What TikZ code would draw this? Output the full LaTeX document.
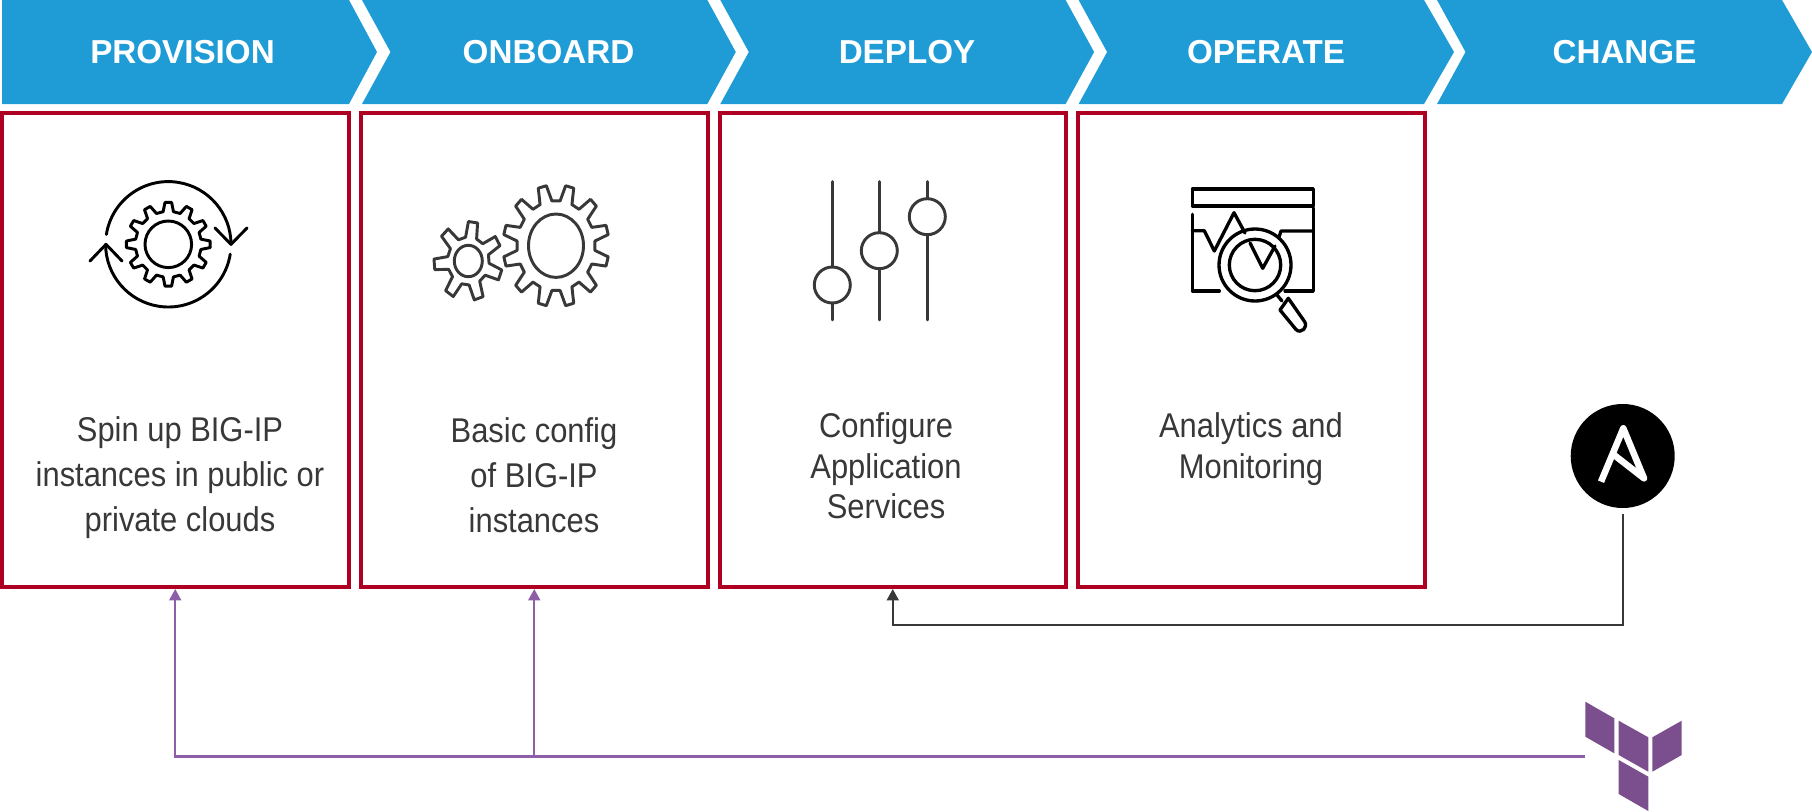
\documentclass[tikz,border=0pt]{standalone}
\usepackage{fontspec}
\setmainfont{Liberation Sans}
\newfontfamily\boxfont[FakeStretch=0.9]{Liberation Sans}
\usetikzlibrary{arrows.meta}
\definecolor{chevblue}{HTML}{1F9CD6}
\definecolor{boxred}{HTML}{AE0022}
\definecolor{inkgrey}{HTML}{383838}
\definecolor{tfpurple}{HTML}{7B4E8E}
\definecolor{linkpurple}{HTML}{8E5FA8}
\tikzset{
  x=0.75pt,y=-0.75pt,
  chevtext/.style={text=white,font=\bfseries\fontsize{24.9}{28}\selectfont,anchor=center,inner sep=0pt},
  stagebox/.style={draw=boxred,line width=3pt,inner sep=0pt,anchor=north west,minimum width=259.9pt,minimum height=355.5pt},
  boxtext/.style={text=inkgrey,align=center,inner sep=0pt,font=\boxfont\fontsize{25.75}{#1}\selectfont},
  iconline/.style={draw=#1,line width=2.2pt,line join=round,line cap=round,fill=none},
  iconline/.default=black,
  linkline/.style={line width=1.6pt,-{Triangle[width=9pt,length=8.6pt]}},
}
\newcommand{\chevron}[3]{% left, right-shoulder, tip depth
  \fill[chevblue] (#1,0) -- (#2,0) -- (#2+#3,52) -- (#2,104) -- (#1,104) -- (#1+28.5,52) -- cycle;}
\newcommand{\gearshape}[8]{% cx cy xscale n ri ro offset colour
  \pgfmathtruncatemacro{\nn}{#4-1}
  \draw[iconline=#8,shift={(#1,#2)},xscale=#3]
    ({#7-.3*360/#4}:#5)
    \foreach \k in {0,...,\nn}{
      -- ({#7+(\k-.3)*360/#4}:#5) -- ({#7+(\k-.15)*360/#4}:#6)
      -- ({#7+(\k+.15)*360/#4}:#6) -- ({#7+(\k+.3)*360/#4}:#5)}
    -- cycle;}
\begin{document}
\begin{tikzpicture}
\useasboundingbox (0,0) rectangle (1812,811);
% chevrons
\fill[chevblue] (2,0) -- (349,0) -- (377,52) -- (349,104) -- (2,104) -- cycle;
\chevron{362}{707.3}{28.5}
\chevron{720.3}{1065.6}{28.5}
\chevron{1078.6}{1424}{30}
\chevron{1437}{1782}{30}
\node[chevtext] (t1) at (182.5,52.5) {PROVISION};
\node[chevtext] (t2) at (548.5,52.5) {ONBOARD};
\node[chevtext] (t3) at (907,52.5) {DEPLOY};
\node[chevtext] (t4) at (1266,52.5) {OPERATE};
\node[chevtext] (t5) at (1624.5,52.5) {CHANGE};
% boxes
\node[stagebox,minimum width=260.6pt] (box1) at (-0.5,111) {};
\node[stagebox] (box2) at (359,111) {};
\node[stagebox] (box3) at (717.5,111) {};
\node[stagebox] (box4) at (1076,111) {};
\node[boxtext=33.75pt] (d1) at (180,477.5) {Spin up BIG-IP\\instances in public or\\private clouds};
\node[boxtext=33.75pt] (d2) at (534,475) {Basic config\\of BIG-IP\\instances};
\node[boxtext=30.4pt] (d3) at (886,466) {Configure\\Application\\Services};
\node[boxtext=30.4pt] (d4) at (1251,449) {Analytics and\\Monitoring};
% provision icon
\begin{scope}[shift={(168.3,244.3)}]
  \draw[iconline] (189:62.7) arc[start angle=189,end angle=360,radius=62.7];
  \draw[iconline] (9:62.7) arc[start angle=9,end angle=180,radius=62.7];
  \draw[iconline] (46.7,-16.3) -- (62.7,0) -- (78.7,-16.3);
  \draw[iconline] (-78.3,16.7) -- (-62.3,0) -- (-46.3,16.7);
  \draw[iconline] (0,0) circle[radius=23.3];
\end{scope}
\gearshape{168.3}{244.3}{1}{12}{33}{42}{0}{black}
% onboard icon
\gearshape{556}{245.7}{.87}{12}{45}{61}{15}{inkgrey}
\draw[iconline=inkgrey] (556,245.7) ellipse[x radius=27.5,y radius=31.7];
\gearshape{468.3}{261}{.87}{7}{24}{39.5}{-30.6}{inkgrey}
\draw[iconline=inkgrey] (468.3,261) ellipse[x radius=14,y radius=15.7];
% deploy icon
\draw[iconline=inkgrey] (832.3,181.7) -- (832.3,267);
\draw[iconline=inkgrey] (832.3,303) -- (832.3,320);
\draw[iconline=inkgrey] (832.3,285) circle[radius=18];
\draw[iconline=inkgrey] (879.3,181.7) -- (879.3,232.7);
\draw[iconline=inkgrey] (879.3,268.7) -- (879.3,320);
\draw[iconline=inkgrey] (879.3,250.7) circle[radius=18];
\draw[iconline=inkgrey] (927.3,181.7) -- (927.3,198.7);
\draw[iconline=inkgrey] (927.3,234.7) -- (927.3,320);
\draw[iconline=inkgrey] (927.3,216.7) circle[radius=18];
% operate icon
\begin{scope}[iconline/.append style={line width=2.5pt}]
  \draw[iconline] (1192.3,189) rectangle (1313.3,206);
  \draw[iconline] (1192.3,214.3) -- (1192.3,291) -- (1219.3,291);
  \draw[iconline] (1313.3,208) -- (1313.3,291) -- (1285,291);
  \draw[iconline] (1192.3,230.7) -- (1204.3,230.7) -- (1214.3,251) -- (1234,212.7) -- (1245,233);
  \draw[iconline] (1250,243) -- (1262.7,268.3) -- (1275,246);
  \draw[iconline] (1279,237) -- (1281,231) -- (1313.3,231);
  \draw[iconline] (1255,265) circle[radius=36];
  \draw[iconline] (1255,265) circle[radius=25.7];
  \draw[iconline] (1277,295) -- (1282,301);
  \draw[iconline] (1288.3,298.3) -- (1304.5,321.5)
     .. controls (1308.5,327) and (1301,334.5) .. (1296,329.5) -- (1280,310) -- cycle;
\end{scope}
% ansible
\node[circle,fill=black,inner sep=0pt,minimum size=78pt] (ans) at (1622.7,456) {};
\draw[white,line width=4.9pt,line join=round,line cap=butt] (1601,481.7) -- (1623.3,428.3) -- (1644,478.3) -- (1615,455.7);
% terraform
\fill[tfpurple] (1585.3,701.7) -- (1614.3,718.3) -- (1614.3,753.3) -- (1585.3,736.7) -- cycle;
\fill[tfpurple] (1618.7,720.7) -- (1648.3,737.3) -- (1648.3,771.7) -- (1618.7,755) -- cycle;
\fill[tfpurple] (1652.3,737.3) -- (1681.7,720.7) -- (1681.7,755) -- (1652.3,771.7) -- cycle;
\fill[tfpurple] (1618.7,760) -- (1648.3,776.7) -- (1648.3,811) -- (1618.7,794) -- cycle;
% connectors
\coordinate (tf) at (1585,756.5);
\coordinate (ansbend) at (ans.south |- 0,625);
\coordinate (tfbranch) at (box2.south |- tf);
\coordinate (tfbend) at (box1.south |- tf);
\draw[linkline,draw=inkgrey,shorten <=4.5pt] (ans.south) -- (ansbend) -| (box3.south);
\draw[linkline,draw=linkpurple] (tf) -- (tfbend) -- (box1.south);
\draw[linkline,draw=linkpurple] (tfbranch) -- (box2.south);
\end{tikzpicture}
\end{document}
